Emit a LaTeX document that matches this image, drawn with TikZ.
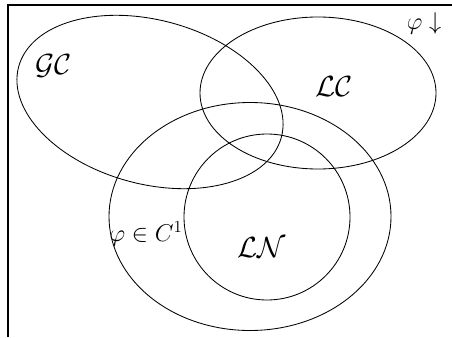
\documentclass[tikz,border=0pt]{standalone}
\usepackage{amssymb}
\usetikzlibrary{shapes.geometric}
\tikzset{
mySet/.style={
	ellipse,draw,line width=0.6pt,
	inner sep=0pt
}
, myName/.style={
	inner sep=0pt,font=\huge
}
, myCond/.style={
	inner sep=0pt,font=\LARGE
}
}

\begin{document}
\begin{tikzpicture}
	\useasboundingbox (0,0) rectangle (11.3,8.425);
	% frame
	\coordinate (FrameB) at (0.2,0);
	\coordinate (FrameTL) at (0.2,8.3);
	\coordinate (FrameTR) at (11.3,8.3);
	\draw[line width=1.2pt] (FrameB) -- (FrameTL) -- (FrameTR);
	% sets
	\node[mySet,minimum width=6.8cm,minimum height=4.1cm,rotate=-15] (GCset) at (3.75,5.875) {};
	\node[mySet,minimum width=5.9cm,minimum height=3.8cm] (LCset) at (7.95,6.1) {};
	\node[mySet,minimum width=7.05cm,minimum height=5.7cm] (Cset) at (6.25,3.0125) {};
	\node[mySet,minimum width=4.15cm,minimum height=4.15cm] (LNset) at (6.675,3.0) {};
	% labels
	\node[myName] (GC) at (1.35,6.775) {$\mathcal{GC}$};
	\node[myName] (LC) at (8.35,6.25) {$\mathcal{LC}$};
	\node[myName] (LN) at (6.55,2.225) {$\mathcal{LN}$};
	\node[myCond] (Cone) at (3.65,2.575) {$\varphi\in C^1$};
	\node[myCond] (Down) at (10.6,7.85) {$\varphi\downarrow$};
\end{tikzpicture}
\end{document}
